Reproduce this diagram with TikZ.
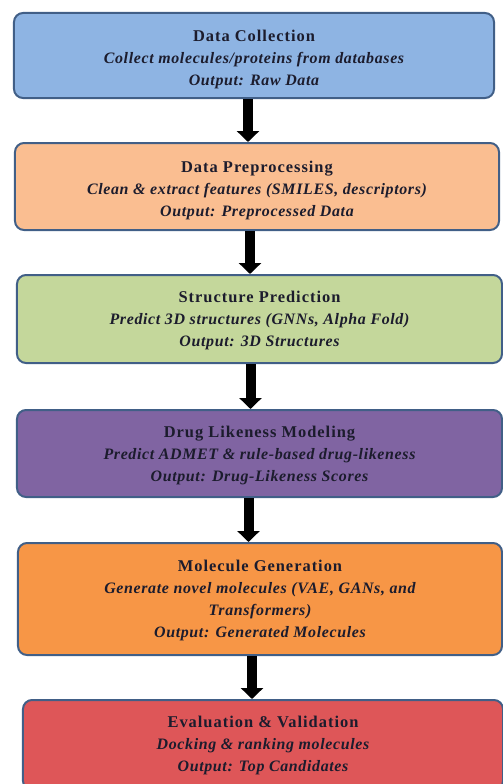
\documentclass[tikz,border=0pt]{standalone}
\usepackage{fontspec}
\setmainfont{Liberation Serif}
\newfontfamily\ttlfont[LetterSpace=6]{Liberation Serif}
\newfontfamily\bodyfont[LetterSpace=4]{Liberation Serif}
\usetikzlibrary{arrows.meta}
\definecolor{bordc}{RGB}{65,95,135}
\definecolor{txtc}{RGB}{28,28,45}
\definecolor{c1}{RGB}{142,180,227}
\definecolor{c2}{RGB}{250,190,145}
\definecolor{c3}{RGB}{196,215,155}
\definecolor{c4}{RGB}{128,100,162}
\definecolor{c5}{RGB}{247,150,70}
\definecolor{c6}{RGB}{222,86,88}
% #1 = extra strut height (pushes the text block down by half of it)
\newcommand{\ttl}[2]{{\ttlfont\bfseries\fontsize{16.5}{22}\selectfont\rule{0pt}{#1}#2}}
\newcommand{\bdy}[1]{{\bodyfont\bfseries\itshape\fontsize{16}{22}\selectfont #1}}
\tikzset{
  stagebox/.style={draw=bordc, line width=2bp, rounded corners=9bp, align=center,
    text=txtc, inner sep=0pt, font=\fontsize{16}{22}\selectfont},
  flowarr/.style={line width=10bp, -{Triangle[width=22bp,length=11bp]}, black}
}
\begin{document}
\begin{tikzpicture}[x=1bp,y=-1bp]
\useasboundingbox (0,0) rectangle (503,784);
\node[stagebox, fill=c1, minimum width=480bp, minimum height=85bp] (b1) at (254,55.5)
  {\ttl{19bp}{Data Collection}\\ \bdy{Collect molecules/proteins from databases}\\ \bdy{Output: Raw Data}};
\node[stagebox, fill=c2, minimum width=484bp, minimum height=87bp] (b2) at (257,186.5)
  {\ttl{19bp}{Data Preprocessing}\\ \bdy{Clean \& extract features (SMILES, descriptors)}\\ \bdy{Output: Preprocessed Data}};
\node[stagebox, fill=c3, minimum width=485bp, minimum height=88bp] (b3) at (259.5,319)
  {\ttl{14bp}{Structure Prediction}\\ \bdy{Predict 3D structures (GNNs, Alpha Fold)}\\ \bdy{Output: 3D Structures}};
\node[stagebox, fill=c4, minimum width=485bp, minimum height=87bp] (b4) at (259.5,453.5)
  {\ttl{15bp}{Drug Likeness Modeling}\\ \bdy{Predict ADMET \& rule-based drug-likeness}\\ \bdy{Output: Drug-Likeness Scores}};
\node[stagebox, fill=c5, minimum width=484bp, minimum height=112bp] (b5) at (260,599)
  {\ttl{15bp}{Molecule Generation}\\ \bdy{Generate novel molecules (VAE, GANs, and}\\ \bdy{Transformers)}\\ \bdy{Output: Generated Molecules}};
\node[stagebox, fill=c6, minimum width=480bp, minimum height=90bp] (b6) at (263,745)
  {\ttl{13bp}{Evaluation \& Validation}\\ \bdy{Docking \& ranking molecules}\\ \bdy{Output: Top Candidates}};
\draw[flowarr] ([xshift=-6bp]b1.south) -- ([xshift=-6bp]b1.south |- b2.north);
\draw[flowarr] ([xshift=-7bp]b2.south) -- ([xshift=-7bp]b2.south |- b3.north);
\draw[flowarr] ([xshift=-9bp]b3.south) -- ([xshift=-9bp]b3.south |- b4.north);
\draw[flowarr] ([xshift=-11bp]b4.south) -- ([xshift=-11bp]b4.south |- b5.north);
\draw[flowarr] ([xshift=-8bp]b5.south) -- ([xshift=-8bp]b5.south |- b6.north);
\end{tikzpicture}
\end{document}
